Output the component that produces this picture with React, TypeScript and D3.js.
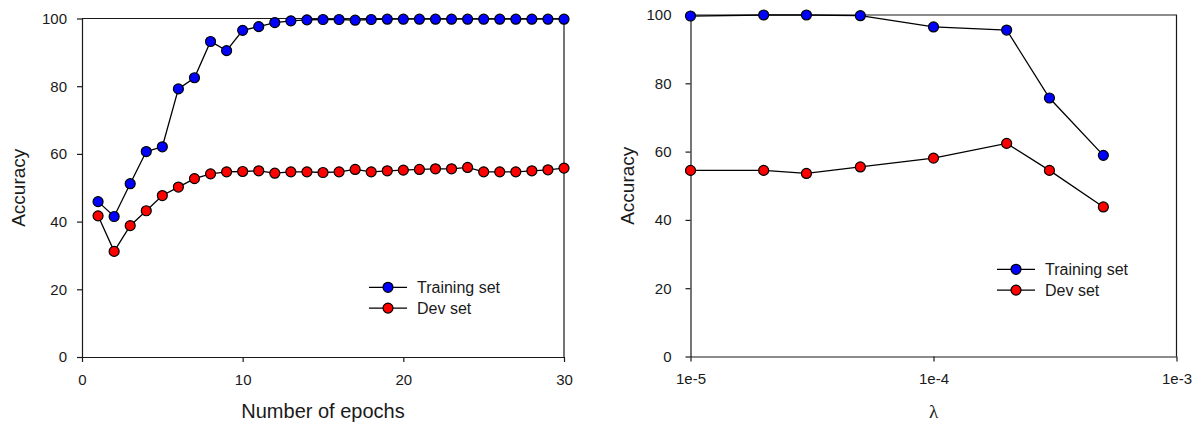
import { useRef, useEffect } from 'react';
import * as d3 from 'd3';

// left panel: accuracy vs. number of epochs
const epochs = [1, 2, 3, 4, 5, 6, 7, 8, 9, 10, 11, 12, 13, 14, 15, 16, 17, 18, 19, 20, 21, 22, 23, 24, 25, 26, 27, 28, 29, 30];
const epochTrain = [45.9, 41.5, 51.2, 60.7, 62.1, 79.2, 82.5, 93.2, 90.5, 96.5, 97.6, 98.8, 99.3, 99.6, 99.7, 99.7, 99.5, 99.7, 99.8, 99.8, 99.8, 99.8, 99.8, 99.8, 99.8, 99.8, 99.8, 99.8, 99.8, 99.8];
const epochDev = [41.7, 31.2, 38.8, 43.2, 47.7, 50.2, 52.7, 54.1, 54.7, 54.8, 55.0, 54.3, 54.7, 54.7, 54.5, 54.7, 55.4, 54.7, 55.0, 55.2, 55.4, 55.6, 55.6, 56.0, 54.7, 54.7, 54.7, 55.0, 55.3, 55.8];
const epochTicks = [0, 10, 20, 30];

// right panel: accuracy vs. lambda
const lambdas = [1e-5, 2e-5, 3e-5, 5e-5, 1e-4, 2e-4, 3e-4, 5e-4];
const lambdaTrain = [99.7, 100, 100, 99.8, 96.5, 95.6, 75.7, 58.9];
const lambdaDev = [54.5, 54.5, 53.6, 55.5, 58.1, 62.4, 54.5, 43.8];
const lambdaTicks = [1e-5, 1e-4, 1e-3];
const lambdaLabels = ['1e-5', '1e-4', '1e-3'];

const accuracyTicks = [0, 20, 40, 60, 80, 100];
const seriesNames = ['Training set', 'Dev set'];
const seriesColors = ['#0000ff', '#ff0000'];

const FONT = 'Liberation Sans, Arial, sans-serif';
const INK = '#1a1a1a';

interface PanelOpts {
  x: d3.ScaleContinuousNumeric<number, number>;
  y: d3.ScaleLinear<number, number>;
  xs: number[];
  series: number[][];
  xTicks: number[];
  xFormat: (d: number, i: number) => string;
  yPad: number;
  xTitle: string;
  xTitleFont: string;
  xTitleSize: number;
  yTitleX: number;
  legendX: number;
  legendY: number;
}

function drawPanel(svg: d3.Selection<SVGSVGElement, unknown, null, undefined>, o: PanelOpts) {
  const [x0, x1] = o.x.range();
  const [y0, y1] = o.y.range();
  const g = svg.append('g');

  const xAxis = g.append('g')
    .attr('transform', `translate(0,${y0})`)
    .call(d3.axisBottom(o.x).tickValues(o.xTicks).tickFormat(o.xFormat as any).tickSize(5).tickSizeOuter(0).tickPadding(12));
  const yAxis = g.append('g')
    .attr('transform', `translate(${x0},0)`)
    .call(d3.axisLeft(o.y).tickValues(accuracyTicks).tickFormat(d3.format('d')).tickSize(5).tickSizeOuter(0).tickPadding(o.yPad));
  [xAxis, yAxis].forEach(a => {
    a.selectAll('path, line').attr('stroke', INK).attr('stroke-width', 1.2);
    a.selectAll('text').attr('font-family', FONT).attr('font-size', 15).attr('fill', INK);
  });

  // top and right frame
  g.append('path')
    .attr('d', `M${x0},${y1}H${x1}V${y0}`)
    .attr('fill', 'none').attr('stroke', INK).attr('stroke-width', 1.2);

  const line = d3.line<number>().x((_, i) => o.x(o.xs[i])).y(d => o.y(d));
  o.series.forEach((s, k) => {
    g.append('path').attr('d', line(s)).attr('fill', 'none').attr('stroke', '#000').attr('stroke-width', 1.3);
    g.append('g').selectAll('circle').data(s).join('circle')
      .attr('cx', (_, i) => o.x(o.xs[i]))
      .attr('cy', d => o.y(d))
      .attr('r', 5)
      .attr('fill', seriesColors[k])
      .attr('stroke', '#000')
      .attr('stroke-width', 1.2);
  });

  // legend
  const lg = g.append('g').attr('transform', `translate(${o.legendX},${o.legendY})`);
  seriesNames.forEach((name, k) => {
    const row = lg.append('g').attr('transform', `translate(0,${k * 20.8})`);
    row.append('line').attr('x1', 0).attr('x2', 38).attr('stroke', '#000').attr('stroke-width', 1.3);
    row.append('circle').attr('cx', 19).attr('r', 5).attr('fill', seriesColors[k]).attr('stroke', '#000').attr('stroke-width', 1.2);
    row.append('text').attr('x', 48).attr('dy', '0.35em')
      .attr('font-family', FONT).attr('font-size', 16).attr('fill', INK).text(name);
  });

  // titles
  g.append('text')
    .attr('x', (x0 + x1) / 2).attr('y', 418)
    .attr('text-anchor', 'middle')
    .attr('font-family', o.xTitleFont).attr('font-size', o.xTitleSize).attr('fill', INK)
    .text(o.xTitle);
  g.append('text')
    .attr('transform', `translate(${o.yTitleX},${(y0 + y1) / 2}) rotate(-90)`)
    .attr('text-anchor', 'middle')
    .attr('font-family', FONT).attr('font-size', 19).attr('fill', INK)
    .text('Accuracy');
}

const Charts = () => {
  const svgRef = useRef<SVGSVGElement>(null);

  useEffect(() => {
    const svg = d3.select(svgRef.current!);
    svg.selectAll('*').remove();

    const xEpoch = d3.scaleLinear().domain([0, 30]).range([82, 564]);
    const yLeft = d3.scaleLinear().domain([0, 100]).range([357, 18.5]);
    drawPanel(svg, {
      x: xEpoch, y: yLeft, xs: epochs, series: [epochTrain, epochDev],
      xTicks: epochTicks, xFormat: d => String(d), yPad: 10,
      xTitle: 'Number of epochs', xTitleFont: FONT, xTitleSize: 20,
      yTitleX: 25, legendX: 369, legendY: 287.3,
    });

    const xLambda = d3.scaleLog().domain([1e-5, 1e-3]).range([690.5, 1176.5]);
    const yRight = d3.scaleLinear().domain([0, 100]).range([356.5, 15]);
    drawPanel(svg, {
      x: xLambda, y: yRight, xs: lambdas, series: [lambdaTrain, lambdaDev],
      xTicks: lambdaTicks, xFormat: (_, i) => lambdaLabels[i], yPad: 14,
      xTitle: 'λ', xTitleFont: 'Liberation Serif, serif', xTitleSize: 19,
      yTitleX: 634, legendX: 997, legendY: 269.3,
    });
  }, []);

  return (
    <svg ref={svgRef} width={1194} height={423}
      style={{ position: 'absolute', left: 0, top: 0, background: '#fff' }} />
  );
};

export default function App() {
  return <Charts />;
}
